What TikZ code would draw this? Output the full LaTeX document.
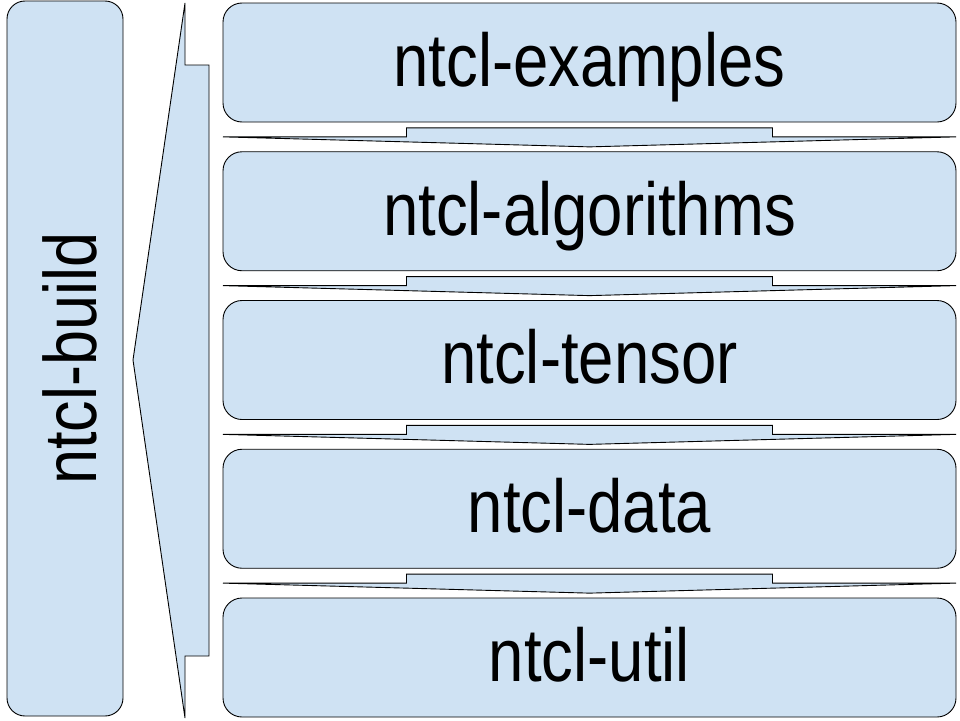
\documentclass[tikz,border=0pt]{standalone}
\usepackage{fontspec}
\setmainfont{Liberation Sans}
\usepackage{tikz}
\usetikzlibrary{positioning, calc}
\definecolor{boxblue}{HTML}{CFE2F3}
\newcommand{\tall}[1]{\scalebox{1}[1.18]{#1}}

\begin{document}
\begin{tikzpicture}[
      x=1pt, y=-1pt,
      layer/.style={draw=black, line width=0.9pt, fill=boxblue, rounded corners=19pt, outer sep=0pt,
        minimum width=733pt, minimum height=119pt, text height=55pt, text depth=7.4pt,
        font=\fontsize{63.5}{75}\selectfont},
      buildbox/.style={layer, rounded corners=18pt, minimum width=715pt, minimum height=116pt,
        text height=70pt, text depth=6.6pt, font=\fontsize{63}{75}\selectfont},
      flow/.style={draw=black, line width=0.9pt, fill=boxblue, line join=miter}
    ]
      \useasboundingbox (0,0) rectangle (960,720);

      % Build system box on the left, text read from bottom to top
      \node[buildbox, rotate=90] (build) at (65,358.5) {\tall{ntcl-build}};

      % Stack of library layers
      \node[layer] (examples) at (589.5,62.5) {\tall{ntcl-examples}};
      \node[layer, below=29.75pt of examples] (algorithms) {\tall{ntcl-algorithms}};
      \node[layer, below=29.75pt of algorithms] (tensor) {\tall{ntcl-tensor}};
      \node[layer, below=29.75pt of tensor] (data) {\tall{ntcl-data}};
      \node[layer, below=29.75pt of data] (util) {\tall{ntcl-util}};

      % Flat down arrows between the layers
      \foreach \upper/\lower in {examples/algorithms, algorithms/tensor, tensor/data, data/util} {
        \coordinate (mid) at ($(\upper.south)!0.5!(\lower.north)$);
        \draw[flow] ($(mid)+(-366.5,0)$) -- ($(mid)+(-183,0)$) -- ($(mid)+(-183,-9)$)
          -- ($(mid)+(183,-9)$) -- ($(mid)+(183,0)$) -- ($(mid)+(366.5,0)$)
          -- ($(mid)+(0,10)$) -- cycle;
      }

      % Big arrow from the layers towards ntcl-build
      \coordinate (tip) at (133,360);
      \draw[flow] (209,65) -- (185,65) -- (185,3) -- (tip) -- (185,718) -- (185,656) -- (209,656) -- cycle;
    \end{tikzpicture}
\end{document}
